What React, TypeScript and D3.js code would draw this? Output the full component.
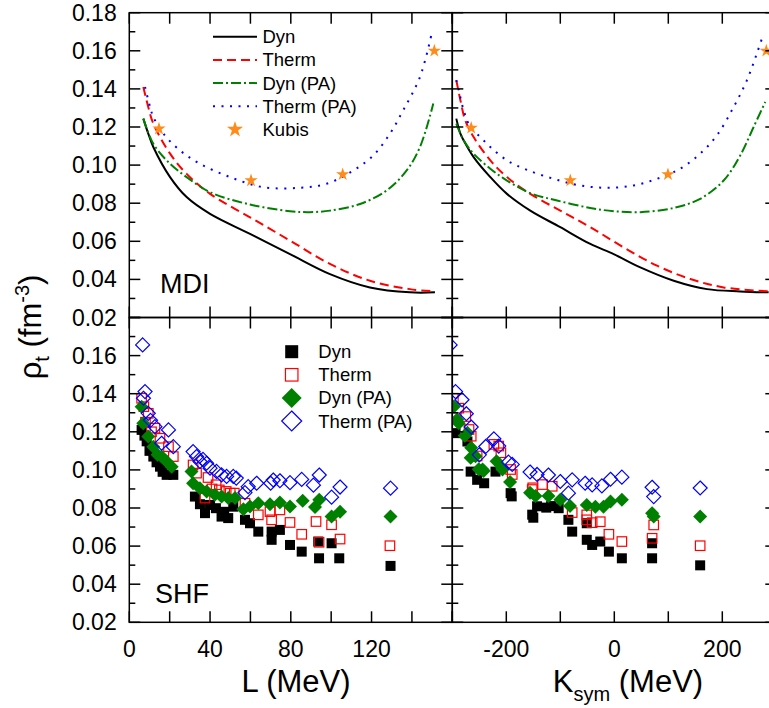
import * as d3 from 'd3';

// ---- MDI curves (top panels) ----
const mdiDynL = [[6.95,0.1244],[9.4,0.1165],[11.9,0.1095],[20.2,0.0937],[28.4,0.0832],[40,0.0744],[59.8,0.0639],[79.6,0.0533],[99.4,0.0428],[119.2,0.0358],[139,0.0332],[151.4,0.0332]];
const mdiThermL = [[6.95,0.141],[9.4,0.1305],[11.9,0.1218],[20.2,0.106],[28.4,0.0954],[40,0.0849],[59.8,0.0726],[79.6,0.0604],[99.4,0.0481],[119.2,0.0393],[139,0.0349],[151.4,0.0337]];
const mdiDynPAL = [[6.95,0.1244],[11.9,0.1112],[20.2,0.1007],[28.4,0.0937],[40,0.0858],[59.8,0.0793],[79.6,0.0758],[89.5,0.0753],[99.4,0.0761],[114.3,0.0796],[127.5,0.0867],[137.4,0.0972],[144,0.1095],[150.6,0.1323]];
const mdiThermPAL = [[7.8,0.141],[10.3,0.1305],[11.9,0.1253],[16.9,0.1165],[25.1,0.1077],[35,0.1007],[49.9,0.0937],[66.4,0.0884],[84.6,0.0881],[97.7,0.0902],[111,0.0972],[120.9,0.1051],[129.1,0.1165],[135.7,0.1288],[144,0.1463],[149.8,0.1691]];
const kubisL = [[14.7,0.1191],[60.3,0.0919],[105.7,0.0951],[151.1,0.16]];

const mdiDynK = [[-292.6,0.1244],[-285,0.1165],[-279,0.113],[-260.5,0.1042],[-229.6,0.0937],[-198.8,0.0849],[-155.6,0.0761],[-100,0.0674],[-44.4,0.0586],[-1.2,0.0533],[48.2,0.0463],[110,0.0393],[171.6,0.0349],[233.3,0.0337],[285.8,0.0332]];
const mdiThermK = [[-292.6,0.1446],[-285,0.134],[-276,0.1235],[-260.5,0.1147],[-229.6,0.1025],[-198.8,0.0937],[-155.6,0.0849],[-100,0.0761],[-44.4,0.0674],[17.3,0.0568],[79,0.0472],[140.7,0.0402],[202.5,0.0358],[285.8,0.0337]];
const mdiDynPAK = [[-292.6,0.1218],[-279,0.113],[-260.5,0.106],[-229.6,0.0981],[-198.8,0.0919],[-155.6,0.0853],[-106,0.0814],[-44.4,0.0775],[-1.2,0.0758],[48.2,0.0753],[110,0.0775],[159,0.0823],[202.5,0.0919],[233.3,0.1051],[258,0.12],[279.6,0.1332]];
const mdiThermPAK = [[-292.6,0.1446],[-288,0.1393],[-279,0.1288],[-266.7,0.12],[-248,0.1147],[-229.6,0.1095],[-198.8,0.1025],[-161.7,0.0975],[-112.3,0.0928],[-63,0.0893],[-13.6,0.0881],[35.8,0.0893],[79,0.0928],[122,0.0981],[159,0.106],[190,0.1156],[221,0.1305],[245.7,0.1446],[264,0.1586],[276.5,0.1691]];
const kubisK = [[-265,0.1195],[-81.5,0.0919],[99.4,0.0951],[281.5,0.16]];

// ---- SHF points (bottom panels) ----
const shfDynL = [[6.1,0.121],[7.5,0.118],[8.6,0.115],[10,0.11],[11.9,0.107],[13.5,0.104],[15.2,0.1017],[16.5,0.099],[18.5,0.0974],[21.8,0.0974],[32.5,0.086],[35,0.082],[37.5,0.0773],[40,0.0816],[42.9,0.0799],[45.7,0.0755],[47,0.078],[49,0.0747],[51.5,0.0807],[57.3,0.0738],[59.8,0.072],[63.9,0.0676],[70.5,0.0676],[70.5,0.0633],[74.6,0.0685],[79.6,0.0606],[85.4,0.0571],[93.6,0.0624],[94,0.0536],[100.2,0.0615],[104,0.0536],[129.4,0.0496]];
const shfThermL = [[6.1,0.1376],[7.2,0.1332],[8,0.125],[9.4,0.1297],[11,0.12],[12.7,0.1219],[15.2,0.1166],[19.4,0.1122],[21.8,0.107],[31.6,0.1026],[33.3,0.0983],[37.5,0.0852],[39,0.096],[41,0.09],[43,0.0922],[44.6,0.0895],[48,0.0887],[50,0.0878],[52,0.0878],[57.3,0.0825],[63.9,0.0764],[69.7,0.0781],[70.5,0.0738],[74.6,0.079],[79.6,0.0724],[85.4,0.0662],[92.5,0.0729],[94,0.062],[100.2,0.0712],[104.4,0.0637],[129.1,0.0602]];
const shfDynPAL = [[6.1,0.1332],[6.9,0.1245],[9.4,0.1175],[11.9,0.1122],[14,0.108],[16,0.107],[18.5,0.1044],[21,0.1017],[30.8,0.0991],[31.6,0.093],[35,0.0904],[38.3,0.0886],[42.4,0.0869],[45.7,0.086],[49,0.0852],[52.4,0.0852],[56.5,0.0794],[59.8,0.0808],[63.9,0.0825],[69.7,0.082],[74.6,0.0829],[79.6,0.0808],[85.9,0.0838],[92,0.0805],[94.1,0.0843],[100.2,0.0755],[104.4,0.078],[129.4,0.0755]];
const shfThermPAL = [[6.6,0.1656],[7.8,0.1411],[7,0.1376],[9.4,0.1297],[10.5,0.126],[12.7,0.1227],[16,0.114],[19.4,0.121],[21.8,0.1122],[31.6,0.1096],[33.3,0.107],[35,0.1044],[36.5,0.1055],[38.3,0.1035],[40,0.1009],[43.2,0.0992],[45.7,0.0974],[48.2,0.0966],[51.5,0.0966],[53,0.0957],[57.3,0.0881],[58.9,0.0912],[63.1,0.093],[70,0.093],[71.3,0.0947],[74.6,0.0943],[79.6,0.0933],[85.4,0.095],[91.2,0.092],[94.1,0.0973],[100.2,0.0857],[104.4,0.091],[129.4,0.0904]];

const shfDynK = [[-294,0.1193],[-272,0.1149],[-266,0.0991],[-254,0.0948],[-241,0.093],[-220,0.0991],[-192,0.0878],[-190,0.0861],[-152,0.0765],[-150,0.0749],[-143,0.0809],[-126,0.0802],[-117,0.081],[-103,0.0799],[-85,0.0738],[-78,0.0676],[-51,0.072],[-51,0.0633],[-41,0.0606],[-26,0.0624],[-10,0.0571],[14,0.0536],[70,0.0615],[70,0.0536],[159,0.0499]];
const shfThermK = [[-298,0.1376],[-288,0.1324],[-275,0.128],[-269,0.1212],[-265,0.1177],[-254,0.1073],[-223,0.1134],[-214,0.1125],[-210,0.109],[-192,0.1002],[-189,0.0976],[-152,0.0897],[-151,0.0906],[-133,0.0923],[-115,0.0914],[-78,0.0776],[-51,0.0764],[-51,0.0738],[-41,0.0723],[-26,0.0728],[-10,0.0662],[14,0.0624],[73,0.0711],[70,0.0641],[159,0.0602]];
const shfDynPAK = [[-297,0.1333],[-291,0.1265],[-288,0.1245],[-277,0.1179],[-272,0.1195],[-266,0.1064],[-265,0.1116],[-257,0.1072],[-251,0.1003],[-244,0.1002],[-242,0.0994],[-218,0.1046],[-208,0.1011],[-207,0.1002],[-193,0.0936],[-156,0.088],[-146,0.0863],[-122,0.0863],[-100,0.0843],[-82,0.0811],[-51,0.0816],[-35,0.0807],[-20,0.0807],[-7,0.0834],[14,0.0843],[70,0.0773],[73,0.0755],[159,0.0755]];
const shfThermPAK = [[-304,0.1656],[-294,0.1411],[-282,0.1368],[-274,0.1295],[-265,0.1225],[-250,0.1079],[-238,0.1123],[-223,0.1163],[-214,0.1125],[-196,0.1041],[-189,0.1029],[-156,0.0989],[-143,0.0976],[-122,0.0973],[-100,0.0939],[-85,0.0878],[-78,0.0948],[-54,0.093],[-41,0.0921],[-23,0.0916],[-7,0.0951],[14,0.0962],[70,0.0909],[73,0.086],[159,0.0905]];

const yTickLabelsTop = [0.18, 0.16, 0.14, 0.12, 0.10, 0.08, 0.06, 0.04, 0.02];
const yTickLabelsBot = [0.16, 0.14, 0.12, 0.10, 0.08, 0.06, 0.04, 0.02];
const lTickLabels = [0, 40, 80, 120];
const kTickLabels = [-200, 0, 200];

const FONT = '"Liberation Sans", Arial, Helvetica, sans-serif';
const RED = '#ff0000';
const GREEN = '#008000';
const BLUE = '#0000ff';
const ORANGE = '#ff8c1a';

const xL = d3.scaleLinear().domain([0, 160]).range([129.3, 452.3]);
const xK = d3.scaleLinear().domain([-300, 300]).range([452.3, 776.3]);
const yTop = d3.scaleLinear().domain([0.02, 0.18]).range([317.5, 12.7]);
const yBot = d3.scaleLinear().domain([0.02, 0.18]).range([622.3, 317.5]);

const starPath = (r: number) => d3.symbol().type(d3.symbolStar).size((r * r) / 0.8908)();

function Curve({ data, x, y, color, dash }: any) {
  const line = d3.line<number[]>().x(d => x(d[0])).y(d => y(d[1])).curve(d3.curveCatmullRom.alpha(0.5));
  return <path d={line(data) || ''} fill="none" stroke={color} strokeWidth={2} strokeDasharray={dash} />;
}

function Square({ cx, cy, s, fill, stroke }: any) {
  return <rect x={cx - s / 2} y={cy - s / 2} width={s} height={s} fill={fill} stroke={stroke} strokeWidth={stroke === 'none' ? 0 : 1.2} />;
}

function Diamond({ cx, cy, r, fill, stroke }: any) {
  const d = `M${cx},${cy - r}L${cx + r},${cy}L${cx},${cy + r}L${cx - r},${cy}Z`;
  return <path d={d} fill={fill} stroke={stroke} strokeWidth={stroke === 'none' ? 0 : 1.2} />;
}

function Scatter({ x, y, dyn, therm, dynPA, thermPA }: any) {
  return (
    <g>
      {dyn.map((d: number[], i: number) => <Square key={'a' + i} cx={x(d[0])} cy={y(d[1])} s={10} fill="#000" stroke="none" />)}
      {therm.map((d: number[], i: number) => <Square key={'b' + i} cx={x(d[0])} cy={y(d[1])} s={9.5} fill="none" stroke={RED} />)}
      {dynPA.map((d: number[], i: number) => <Diamond key={'c' + i} cx={x(d[0])} cy={y(d[1])} r={7} fill={GREEN} stroke="none" />)}
      {thermPA.map((d: number[], i: number) => <Diamond key={'e' + i} cx={x(d[0])} cy={y(d[1])} r={7} fill="none" stroke={BLUE} />)}
    </g>
  );
}

function Frame({ x, y, minor }: any) {
  const [x0, x1] = x.range();
  const [y0, y1] = [y.range()[1], y.range()[0]];
  const xt = d3.range(x.domain()[0], x.domain()[1] + 1e-9, minor);
  const ytMaj = d3.range(0.02, 0.1801, 0.02);
  const ytMin = d3.range(0.03, 0.18, 0.02);
  return (
    <g stroke="#000" strokeWidth={1.5}>
      <rect x={x0} y={y0} width={x1 - x0} height={y1 - y0} fill="none" />
      {xt.map((v: number, i: number) => (
        <g key={'x' + i}>
          <line x1={x(v)} x2={x(v)} y1={y0} y2={y0 + 11} />
          <line x1={x(v)} x2={x(v)} y1={y1} y2={y1 - 11} />
        </g>
      ))}
      {ytMaj.map((v: number, i: number) => (
        <g key={'ym' + i}>
          <line x1={x0} x2={x0 + 11} y1={y(v)} y2={y(v)} />
          <line x1={x1} x2={x1 - 11} y1={y(v)} y2={y(v)} />
        </g>
      ))}
      {ytMin.map((v: number, i: number) => (
        <g key={'yn' + i}>
          <line x1={x0} x2={x0 + 6} y1={y(v)} y2={y(v)} />
          <line x1={x1} x2={x1 - 6} y1={y(v)} y2={y(v)} />
        </g>
      ))}
    </g>
  );
}

function MdiPanel({ x, y, dyn, therm, dynPA, thermPA, kubis }: any) {
  return (
    <g>
      <Curve data={dyn} x={x} y={y} color="#000" />
      <Curve data={therm} x={x} y={y} color={RED} dash="9,5" />
      <Curve data={dynPA} x={x} y={y} color={GREEN} dash="10,3,2,3" />
      <Curve data={thermPA} x={x} y={y} color={BLUE} dash="2,6.5" />
      {kubis.map((d: number[], i: number) => (
        <path key={i} d={starPath(7) || ''} transform={`translate(${x(d[0])},${y(d[1])})`} fill={ORANGE} />
      ))}
    </g>
  );
}

export default function App() {
  const topLegend = [
    { label: 'Dyn', color: '#000', dash: undefined },
    { label: 'Therm', color: RED, dash: '9,5' },
    { label: 'Dyn (PA)', color: GREEN, dash: '10,3,2,3' },
    { label: 'Therm (PA)', color: BLUE, dash: '2,6.5' },
  ];
  const legRowY = (i: number) => 36.7 + i * 23.2;
  const botRowY = (i: number) => 351.7 + i * 23.1;
  return (
    <div style={{ position: 'absolute', left: 0, top: 0 }}>
      <svg width={769} height={708} style={{ display: 'block', background: '#fff' }} fontFamily={FONT}>
        <defs>
          <clipPath id="cTL"><rect x={129.3} y={12.7} width={323} height={304.8} /></clipPath>
          <clipPath id="cTR"><rect x={452.3} y={12.7} width={324} height={304.8} /></clipPath>
          <clipPath id="cBL"><rect x={129.3} y={317.5} width={323} height={304.8} /></clipPath>
          <clipPath id="cBR"><rect x={452.3} y={317.5} width={324} height={304.8} /></clipPath>
        </defs>

        <g clipPath="url(#cTL)">
          <MdiPanel x={xL} y={yTop} dyn={mdiDynL} therm={mdiThermL} dynPA={mdiDynPAL} thermPA={mdiThermPAL} kubis={kubisL} />
        </g>
        <g clipPath="url(#cTR)">
          <MdiPanel x={xK} y={yTop} dyn={mdiDynK} therm={mdiThermK} dynPA={mdiDynPAK} thermPA={mdiThermPAK} kubis={kubisK} />
        </g>
        <g clipPath="url(#cBL)">
          <Scatter x={xL} y={yBot} dyn={shfDynL} therm={shfThermL} dynPA={shfDynPAL} thermPA={shfThermPAL} />
        </g>
        <g clipPath="url(#cBR)">
          <Scatter x={xK} y={yBot} dyn={shfDynK} therm={shfThermK} dynPA={shfDynPAK} thermPA={shfThermPAK} />
        </g>

        <Frame x={xL} y={yTop} minor={20} />
        <Frame x={xK} y={yTop} minor={100} />
        <Frame x={xL} y={yBot} minor={20} />
        <Frame x={xK} y={yBot} minor={100} />

        {/* top legend */}
        {topLegend.map((d, i) => (
          <g key={d.label}>
            <line x1={213} x2={257} y1={legRowY(i)} y2={legRowY(i)} stroke={d.color} strokeWidth={2} strokeDasharray={d.dash} />
            <text x={262.5} y={legRowY(i) + 6.5} fontSize={18.5}>{d.label}</text>
          </g>
        ))}
        <path d={starPath(8.5) || ''} transform={`translate(235,${legRowY(4)})`} fill={ORANGE} />
        <text x={262.5} y={legRowY(4) + 6.5} fontSize={18.5}>Kubis</text>

        {/* bottom legend */}
        <Square cx={291.7} cy={botRowY(0)} s={13} fill="#000" stroke="none" />
        <Square cx={291.7} cy={botRowY(1)} s={12.5} fill="none" stroke={RED} />
        <Diamond cx={291.7} cy={botRowY(2)} r={10} fill={GREEN} stroke="none" />
        <Diamond cx={291.7} cy={botRowY(3)} r={10} fill="none" stroke={BLUE} />
        {['Dyn', 'Therm', 'Dyn (PA)', 'Therm (PA)'].map((t, i) => (
          <text key={t} x={318.3} y={botRowY(i) + 6.5} fontSize={18.5}>{t}</text>
        ))}

        <text x={160} y={293} fontSize={27}>MDI</text>
        <text x={155} y={603} fontSize={27}>SHF</text>

        {/* y tick labels */}
        {yTickLabelsTop.map(v => (
          <text key={'t' + v} x={116.7} y={yTop(v) + 8} fontSize={23} textAnchor="end">{v.toFixed(2)}</text>
        ))}
        {yTickLabelsBot.map(v => (
          <text key={'b' + v} x={116.7} y={yBot(v) + 8} fontSize={23} textAnchor="end">{v.toFixed(2)}</text>
        ))}
        {/* x tick labels */}
        {lTickLabels.map(v => (
          <text key={'l' + v} x={xL(v)} y={657} fontSize={23} textAnchor="middle">{v}</text>
        ))}
        {kTickLabels.map(v => (
          <text key={'k' + v} x={xK(v)} y={657} fontSize={23} textAnchor="middle">{v}</text>
        ))}

        {/* axis titles */}
        <text x={296} y={692} fontSize={31} textAnchor="middle">L (MeV)</text>
        <text x={628} y={692} fontSize={31} textAnchor="middle">
          K<tspan fontSize={20} dy={9}>sym</tspan><tspan dy={-9}> (MeV)</tspan>
        </text>
        <text transform="translate(41,327) rotate(-90)" fontSize={31} textAnchor="middle">
          ρ<tspan fontSize={20} dy={8}>t</tspan><tspan dy={-8}> (fm</tspan><tspan fontSize={20} dy={-12}>-3</tspan><tspan dy={12}>)</tspan>
        </text>
      </svg>
    </div>
  );
}
